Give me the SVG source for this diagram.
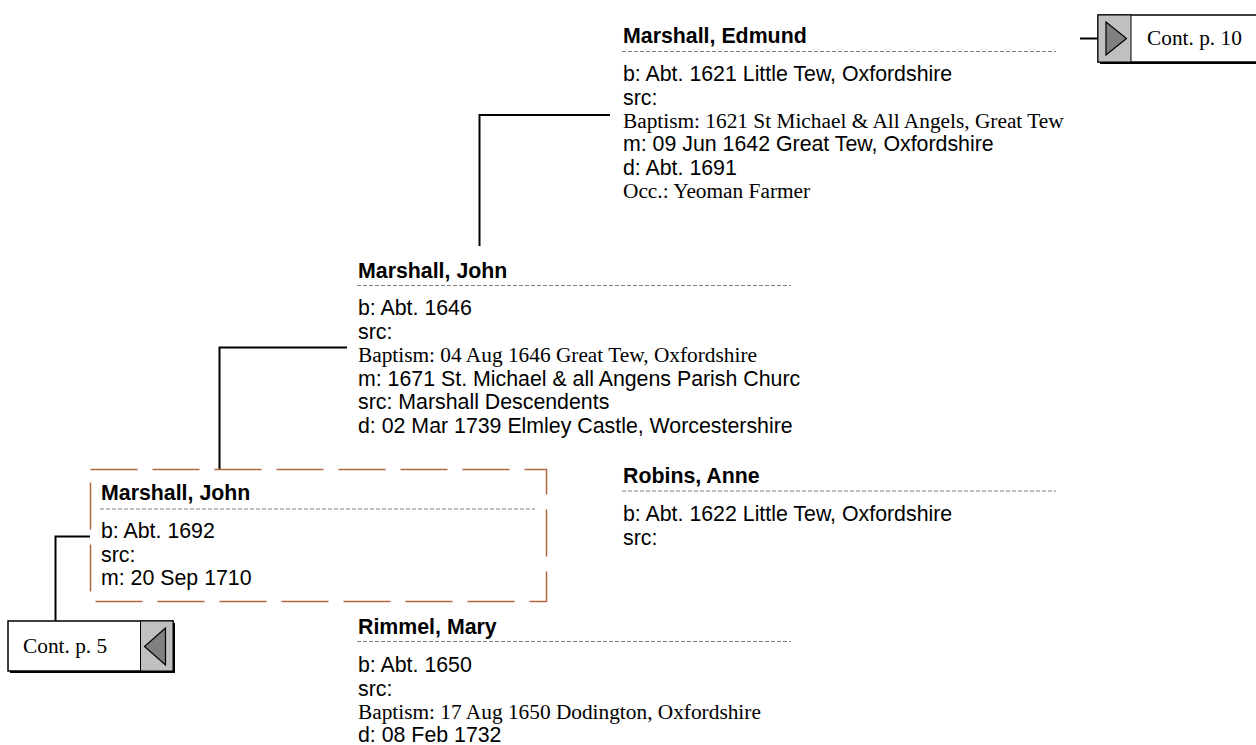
<svg xmlns="http://www.w3.org/2000/svg" width="1256" height="745" viewBox="0 0 1256 745">
<style>
.nm{font-family:"Liberation Sans",Arial,sans-serif;font-weight:bold;font-size:21.33px;fill:#000}
.tx{font-family:"Liberation Sans",Arial,sans-serif;font-size:21.33px;fill:#000}
.sf{font-family:"Liberation Serif","Times New Roman",serif;font-size:21.33px;fill:#000}
.sep{stroke:#808080;stroke-width:1;stroke-dasharray:4 2;fill:none}
.con{stroke:#000;stroke-width:2;fill:none}
.cbox{fill:#fff;stroke:#000;stroke-width:1.5}
.cgray{fill:#c0c0c0;stroke:#000;stroke-width:1}
.tri{fill:#808080;stroke:#000;stroke-width:1.2}
</style>
<rect width="1256" height="745" fill="#fff"/>
<g id="connectors">
<polyline class="con" points="610,115 479.5,115 479.5,246"/>
<polyline class="con" points="347,347.5 219.5,347.5 219.5,469"/>
<polyline class="con" points="90,536.5 55.5,536.5 55.5,621"/>
<line class="con" x1="1080" y1="38.5" x2="1098" y2="38.5"/>
</g>
<g id="cont10">
<rect x="1100" y="17" width="160" height="47" fill="#000"/>
<rect class="cbox" x="1098" y="15" width="160" height="47"/>
<rect class="cgray" x="1098" y="15" width="33" height="47"/>
<polygon class="tri" points="1106,22 1126.5,38.5 1106,55"/>
<text class="sf" x="1147" y="45">Cont. p. 10</text>
</g>
<g id="edmund">
<text class="nm" x="623" y="43">Marshall, Edmund</text>
<line class="sep" x1="622" y1="51.5" x2="1056" y2="51.5"/>
<text class="tx" x="623" y="81">b: Abt. 1621 Little Tew, Oxfordshire</text>
<text class="tx" x="623" y="104.5">src:</text>
<text class="sf" x="623" y="128">Baptism: 1621 St Michael &amp; All Angels, Great Tew</text>
<text class="tx" x="623" y="151">m: 09 Jun 1642 Great Tew, Oxfordshire</text>
<text class="tx" x="623" y="174.5">d: Abt. 1691</text>
<text class="sf" x="623" y="198">Occ.: Yeoman Farmer</text>
</g>
<g id="john1646">
<text class="nm" x="358" y="277.5">Marshall, John</text>
<line class="sep" x1="357" y1="285.5" x2="791" y2="285.5"/>
<text class="tx" x="358" y="315">b: Abt. 1646</text>
<text class="tx" x="358" y="338.5">src:</text>
<text class="sf" x="358" y="362">Baptism: 04 Aug 1646 Great Tew, Oxfordshire</text>
<text class="tx" x="358" y="385.5">m: 1671 St. Michael &amp; all Angens Parish Churc</text>
<text class="tx" x="358" y="409">src: Marshall Descendents</text>
<text class="tx" x="358" y="432.5">d: 02 Mar 1739 Elmley Castle, Worcestershire</text>
</g>
<g id="john1692">
<rect x="90.5" y="469.5" width="456" height="132" fill="none" stroke="#b5653f" stroke-width="1.5" stroke-dasharray="47 15"/>
<text class="nm" x="101" y="500">Marshall, John</text>
<line class="sep" x1="100" y1="509" x2="535" y2="509"/>
<text class="tx" x="101" y="538">b: Abt. 1692</text>
<text class="tx" x="101" y="561.5">src:</text>
<text class="tx" x="101" y="585">m: 20 Sep 1710</text>
</g>
<g id="robins">
<text class="nm" x="623" y="483">Robins, Anne</text>
<line class="sep" x1="622" y1="491" x2="1056" y2="491"/>
<text class="tx" x="623" y="521">b: Abt. 1622 Little Tew, Oxfordshire</text>
<text class="tx" x="623" y="544.5">src:</text>
</g>
<g id="rimmel">
<text class="nm" x="358" y="633.5">Rimmel, Mary</text>
<line class="sep" x1="357" y1="641.5" x2="791" y2="641.5"/>
<text class="tx" x="358" y="672">b: Abt. 1650</text>
<text class="tx" x="358" y="695.5">src:</text>
<text class="sf" x="358" y="719">Baptism: 17 Aug 1650 Dodington, Oxfordshire</text>
<text class="tx" x="358" y="742">d: 08 Feb 1732</text>
</g>
<g id="cont5">
<rect x="10" y="623" width="165" height="50" fill="#000"/>
<rect class="cbox" x="8" y="621" width="165" height="50"/>
<rect class="cgray" x="140.5" y="621" width="32.5" height="50"/>
<polygon class="tri" points="165.5,628 144.5,646.5 165.5,665"/>
<text class="sf" x="23" y="653">Cont. p. 5</text>
</g>
</svg>
